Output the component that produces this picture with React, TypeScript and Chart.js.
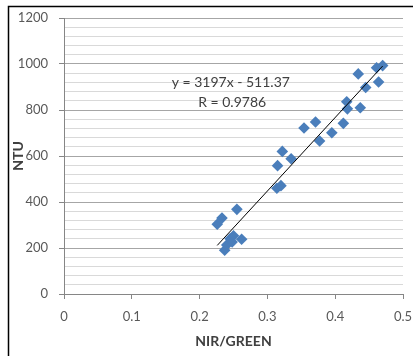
import React, { useEffect, useRef } from "react";
import { Chart, registerables } from "chart.js";

Chart.register(...registerables);

const nirGreen = [
  0.226, 0.233, 0.255, 0.237, 0.240, 0.245, 0.248, 0.250, 0.262,
  0.314, 0.315, 0.320, 0.322, 0.335,
  0.354, 0.371, 0.377, 0.395, 0.412, 0.417, 0.418, 0.437, 0.434, 0.445, 0.464, 0.461, 0.470,
];
const ntu = [
  303, 330, 368, 190, 213, 240, 226, 253, 238,
  460, 558, 471, 620, 588,
  722, 748, 665, 701, 742, 836, 805, 810, 957, 898, 922, 984, 993,
];
const slope = 3197;
const intercept = -511.37;
const trendX = [0.226, 0.47];
const eqLabel = "y = 3197x - 511.37";
const rLabel = "R = 0.9786";
const xTicks = [0, 0.1, 0.2, 0.3, 0.4, 0.5];
const yTickLabels = [0, 200, 400, 600, 800, 1000, 1200];

const FONT = "Lato, 'Open Sans', sans-serif";

export default function App() {
  const ref = useRef<HTMLCanvasElement | null>(null);
  useEffect(() => {
    if (!ref.current) return;
    const framePlugin = {
      id: "frame",
      beforeDraw(chart: any) {
        const ctx = chart.ctx;
        ctx.save();
        ctx.fillStyle = "#ffffff";
        ctx.fillRect(0, 0, chart.width, chart.height);
        ctx.strokeStyle = "#000000";
        ctx.lineWidth = 1.5;
        ctx.beginPath();
        ctx.moveTo(8.5, chart.height + 5);
        ctx.lineTo(8.5, 6.5);
        ctx.lineTo(chart.width + 5, 6.5);
        ctx.stroke();
        ctx.restore();
      },
      afterDatasetsDraw(chart: any) {
        const ctx = chart.ctx;
        const xs = chart.scales.x;
        const ys = chart.scales.y;
        ctx.save();
        ctx.fillStyle = "#404040";
        ctx.font = `14px ${FONT}`;
        ctx.textAlign = "center";
        ctx.textBaseline = "middle";
        ctx.fillText(eqLabel, xs.getPixelForValue(0.246), ys.getPixelForValue(918));
        ctx.fillText(rLabel, xs.getPixelForValue(0.248), ys.getPixelForValue(834));
        ctx.restore();
      },
    };
    const chart = new Chart(ref.current, {
      type: "scatter",
      data: {
        datasets: [
          {
            label: "NTU",
            data: nirGreen.map((x, i) => ({ x, y: ntu[i] })),
            pointStyle: "rectRot",
            pointRadius: 5.8,
            pointHoverRadius: 5.8,
            backgroundColor: "#4a7ebb",
            borderColor: "#4a7ebb",
            borderWidth: 0,
            order: 2,
          },
          {
            type: "line",
            label: "trend",
            data: trendX.map((x) => ({ x, y: slope * x + intercept })),
            borderColor: "#000000",
            borderWidth: 1,
            pointRadius: 0,
            showLine: true,
            fill: false,
            order: 1,
          } as any,
        ],
      },
      options: {
        animation: false,
        responsive: false,
        maintainAspectRatio: false,
        layout: { padding: { left: 0, top: 18, right: 10, bottom: 0 } },
        plugins: { legend: { display: false }, tooltip: { enabled: false } },
        scales: {
          x: {
            type: "linear",
            min: 0,
            max: 0.5,
            afterBuildTicks: (s: any) => {
              s.ticks = xTicks.map((v) => ({ value: v }));
            },
            afterFit: (s: any) => {
              s.height = 62;
              s.paddingRight = 0;
              s.paddingLeft = 0;
            },
            grid: {
              drawOnChartArea: false,
              drawTicks: true,
              tickLength: 5,
              tickColor: "#868686",
            },
            border: { color: "#868686", width: 1 },
            ticks: {
              color: "#595959",
              font: { family: FONT, size: 13 },
              padding: 10,
              maxRotation: 0,
              callback: (v: any) => String(Number(v)),
            },
            title: {
              display: true,
              text: "NIR/GREEN",
              color: "#404040",
              font: { family: FONT, size: 14, weight: "bold" },
              padding: { top: 4, bottom: 6 },
            },
          },
          y: {
            type: "linear",
            min: 0,
            max: 1200,
            ticks: {
              stepSize: 40,
              autoSkip: false,
              color: "#595959",
              font: { family: FONT, size: 13 },
              padding: 11,
              callback: (v: any) =>
                yTickLabels.includes(Number(v)) ? String(v) : "",
            },
            afterFit: (s: any) => {
              s.width = 64;
              s.paddingTop = 0;
              s.paddingBottom = 0;
            },
            grid: {
              color: (c: any) =>
                c.tick && c.tick.value % 200 === 0 ? "#a6a6a6" : "#d9d9d9",
              tickColor: (c: any) =>
                c.tick && c.tick.value % 200 === 0 ? "#868686" : "rgba(0,0,0,0)",
              tickLength: 5,
              lineWidth: 1,
            },
            border: { color: "#868686", width: 1 },
            title: {
              display: true,
              text: "NTU",
              color: "#404040",
              font: { family: FONT, size: 14, weight: "bold" },
              padding: { top: 10, bottom: 0 },
            },
          },
        },
      },
      plugins: [framePlugin],
    });
    return () => chart.destroy();
  }, []);
  return (
    <div style={{ position: "absolute", left: 0, top: 0, width: 413, height: 356 }}>
      <canvas ref={ref} width={413} height={356} style={{ display: "block" }} />
    </div>
  );
}
